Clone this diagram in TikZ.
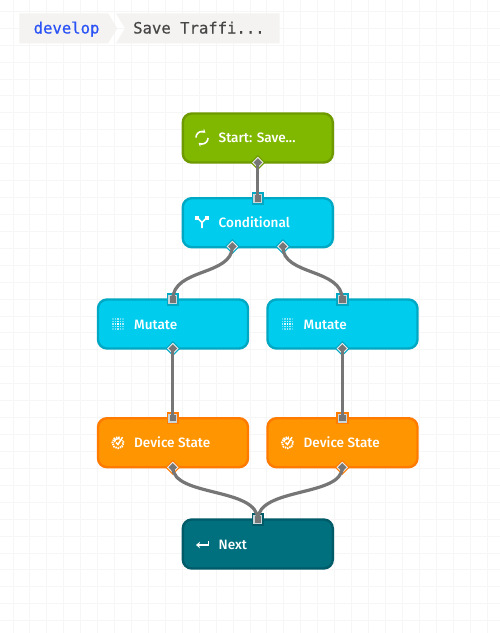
\documentclass[tikz,border=0pt]{standalone}
\usepackage{fontspec}
\setmainfont{Fira Sans Medium}
\newfontfamily\monof[FakeBold=0.5]{DejaVu Sans Mono}
\usetikzlibrary{shapes.geometric,arrows.meta}
\definecolor{gridc}{HTML}{F6F6F6}
\definecolor{crumb}{HTML}{F4F3F2}
\definecolor{crumbblue}{HTML}{2A52F5}
\definecolor{crumbtext}{HTML}{474747}
\definecolor{greenf}{HTML}{80B800}
\definecolor{greenb}{HTML}{6E9A00}
\definecolor{cyanf}{HTML}{00CDEE}
\definecolor{cyanb}{HTML}{00A8C4}
\definecolor{orangef}{HTML}{FF9500}
\definecolor{orangeb}{HTML}{FF7B00}
\definecolor{tealf}{HTML}{00707F}
\definecolor{tealb}{HTML}{005B69}
\definecolor{wire}{HTML}{767676}
\definecolor{portin}{HTML}{C8D6DA}
\tikzset{
  x=1pt,y=-1pt,
  box/.style={draw=#1b,fill=#1f,line width=2.4pt,rounded corners=9pt,minimum width=150pt,minimum height=49pt,inner sep=0pt,outer sep=0pt},
  lbl/.style={text=white,font=\fontsize{13.55}{16}\selectfont,anchor=base west,inner sep=0pt},
  wireline/.style={draw=wire,line width=3.2pt},
  crumbtxt/.style={font=\monof\fontsize{15.6}{18}\selectfont,anchor=base west,inner sep=0pt},
  ico/.style={draw=white,line width=1.6pt},
  sq/.style={rectangle,minimum size=#1,inner sep=0pt,outer sep=0pt},
  dm/.style={diamond,minimum width=#1,minimum height=#1,aspect=1,inner sep=0pt,outer sep=0pt},
}
% name, position, border colour
\newcommand{\outport}[3]{%
  \node[dm=15pt,fill=#3] at (#2) {};
  \node[dm=11.5pt,fill=white!85!gray] at (#2) {};
  \node[dm=8.5pt,fill=wire] (#1) at (#2) {};}
\newcommand{\inport}[3]{%
  \node[sq=12.5pt,fill=#3] at (#2) {};
  \node[sq=9pt,fill=portin] at (#2) {};
  \node[sq=6.5pt,fill=wire] (#1) at (#2) {};}
\newcommand{\gridicon}[2]{%
  \foreach \i in {-2,...,2}{\foreach \j in {-2,...,2}{%
    \pgfmathsetmacro{\op}{1-0.18*(abs(\i)+abs(\j))}%
    \fill[white,opacity=\op] (#1+\i*2.5-.7,#2+\j*2.5-.7) rectangle ++(1.4,1.4);}}}
\newcommand{\gearicon}[2]{%
  \draw[white,line width=1.9pt,dash pattern=on 1.4pt off 0.9pt] (#1,#2) circle (5.6pt);
  \fill[orangef] (#1+1.5,#2-8.5) rectangle (#1+8,#2-2.5);
  \draw[white,line width=1.5pt] (#1-2,#2-.2) -- (#1,#2+1.8) -- (#1+4.5,#2-5.5);
  \draw[white,line width=1.4pt] (#1-3.6,#2-.5) arc[start angle=180,end angle=60,radius=3.6pt];
}
\begin{document}
\begin{tikzpicture}
\useasboundingbox (0,0) rectangle (500,633);
\fill[white] (0,0) rectangle (500,633);
% grid
\foreach \k in {0,...,29} \draw[gridc,line width=1pt] (13+\k*16.93,0) -- (13+\k*16.93,633);
\foreach \k in {0,...,37} \draw[gridc,line width=1pt] (0,11.3+\k*16.93) -- (500,11.3+\k*16.93);
% breadcrumb
\fill[crumb] (19.3,13.3) -- (108,13.3) -- (117.3,28.3) -- (108,43.3) -- (19.3,43.3) -- cycle;
\fill[crumb] (116,13.3) -- (279.5,13.3) -- (279.5,43.3) -- (116,43.3) -- (125,28.3) -- cycle;
\node[crumbtxt,text=crumbblue] (c1) at (33.5,33.5) {develop};
\node[crumbtxt,text=crumbtext] (c2) at (133,33.5) {Save Traffi...};
% boxes
\node[box={green}] (start) at (257.8,138) {};
\node[box={cyan}] (cond) at (257.8,222.7) {};
\node[box={cyan}] (mutL) at (173,324) {};
\node[box={cyan}] (mutR) at (342.5,324) {};
\node[box={orange}] (devL) at (173,442.7) {};
\node[box={orange}] (devR) at (342.5,442.7) {};
\node[box={teal}] (next) at (257.8,544) {};
% labels
\node[lbl] at (218.5,142.8) {Start: Save...};
\node[lbl] at (218.5,227.7) {Conditional};
\node[lbl] at (134,329.2) {Mutate};
\node[lbl] at (303.5,329.2) {Mutate};
\node[lbl] at (134,447.9) {Device State};
\node[lbl] at (303.5,447.9) {Device State};
\node[lbl] at (218.5,549.2) {Next};
% icons
\draw[ico,-{Stealth[length=3.5pt,width=4.5pt]}] (196,137.5) arc[start angle=180,end angle=55,radius=6pt];
\draw[ico,-{Stealth[length=3.5pt,width=4.5pt]}] (208,138) arc[start angle=0,end angle=-125,radius=6pt];
\draw[ico] (202,228) -- (202,222.5) -- (197,217.5);
\draw[ico] (202,222.5) -- (207,217.5);
\fill[white] (195,216) rectangle ++(3.6,3.6);
\fill[white] (205.4,216) rectangle ++(3.6,3.6);
\gridicon{118}{324}
\gridicon{287.5}{324}
\gearicon{118}{442.7}
\gearicon{287.5}{442.7}
\draw[white,line width=1.3pt,{Stealth[length=4pt,width=6.5pt]}-] (196,545) -- (208.6,545) -- (208.6,541);
% ports
\inport{pCondIn}{257.8,198.5}{cyanb}
\outport{pStartOut}{257.8,162.5}{greenb}
\outport{pCondL}{232.3,246.5}{cyanb}
\outport{pCondR}{282.8,246.5}{cyanb}
\inport{pMutLIn}{172.8,299.5}{cyanb}
\inport{pMutRIn}{342.3,299.5}{cyanb}
\outport{pMutLOut}{172.8,348.5}{cyanb}
\outport{pMutROut}{342.3,348.5}{cyanb}
\inport{pDevLIn}{172.8,418}{orangeb}
\inport{pDevRIn}{342.3,418}{orangeb}
\outport{pDevLOut}{172.8,467.3}{orangeb}
\outport{pDevROut}{342.3,467.3}{orangeb}
\inport{pNextIn}{257.8,519.7}{tealb}
% connectors
\draw[wireline] (pStartOut.center) -- (pCondIn.center);
\draw[wireline] (pCondL.center) .. controls (232.3,276) and (172.8,268) .. (pMutLIn.center);
\draw[wireline] (pCondR.center) .. controls (282.8,276) and (342.3,268) .. (pMutRIn.center);
\draw[wireline] (pMutLOut.center) -- (pDevLIn.center);
\draw[wireline] (pMutROut.center) -- (pDevRIn.center);
\draw[wireline] (pDevLOut.center) .. controls (172.8,497) and (257.8,487) .. (pNextIn.center);
\draw[wireline] (pDevROut.center) .. controls (342.3,497) and (257.8,487) .. (pNextIn.center);
\end{tikzpicture}
\end{document}
